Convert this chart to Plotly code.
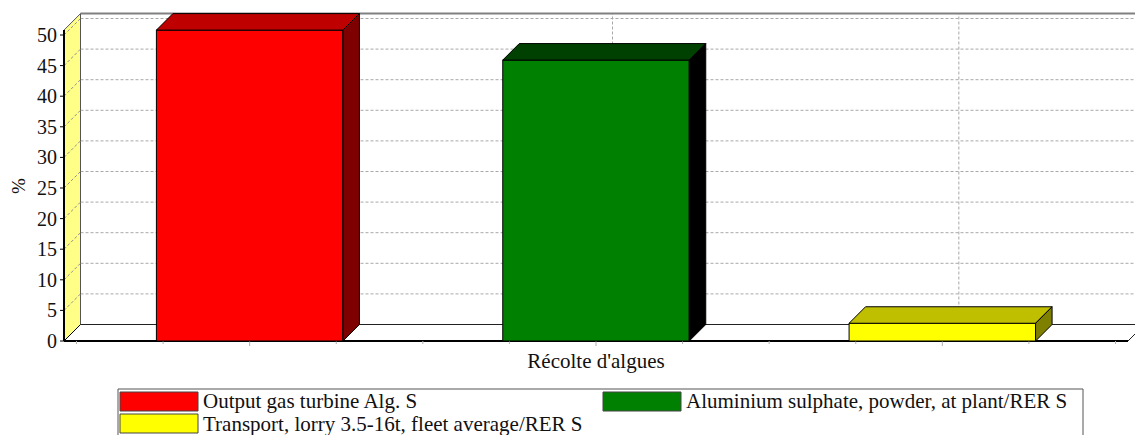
import plotly.graph_objects as go

# ---------------- data ----------------
category = "Récolte d'algues"
series_names = [
    "Output gas turbine Alg. S",
    "Aluminium sulphate, powder, at plant/RER S",
    "Transport, lorry 3.5-16t, fleet average/RER S",
]
values = [50.8, 45.9, 2.9]
colors = ["#FF0000", "#008000", "#FFFF00"]
y_ticks = [0, 5, 10, 15, 20, 25, 30, 35, 40, 45, 50]
y_title = "%"

# ---------------- geometry / style ----------------
W, H = 1135, 435
L, R, T, B = 58, 1135, 8, 346          # plot area in pixels
X0P, X1P = 64, 1128                     # front plane in pixels
Y0P, PYU = 341, 6.12                    # pixel of value 0, pixels per unit
PXU = X1P - X0P
xmin = -0.5 - (X0P - L) / PXU
xmax = -0.5 + (R - X0P) / PXU
ymin = -(B - Y0P) / PYU
ymax = (Y0P - T) / PYU
DEPTH = 16.5
DX = DEPTH / PXU
DY = DEPTH / PYU
BARGAP = 0.0235
BARGROUPGAP = 0.4615
FONT = "Liberation Serif"
GRID = "#A8A8A8"
top = max(values)


def shade(hexcol, amount):
    r, g, b = (int(hexcol[i:i + 2], 16) for i in (1, 3, 5))
    return "#%02X%02X%02X" % tuple(max(0, c - amount) for c in (r, g, b))


def pth(points):
    return "M " + " L ".join(f"{x},{y}" for x, y in points) + " Z"


fig = go.Figure()
for name, v, c in zip(series_names, values, colors):
    fig.add_trace(go.Bar(
        x=[0], y=[v], name=name, marker=dict(color=c, line=dict(color="black", width=1)),
        hoverinfo="name+y", showlegend=False,
    ))

shapes = []
# back wall
shapes.append(dict(type="rect", xref="x", yref="y", x0=-0.5 + DX, x1=0.5 + DX, y0=DY, y1=top + DY,
                   fillcolor="white", line=dict(width=0), layer="below"))
# back wall horizontal dashed grid
for v in y_ticks:
    if v > 0:
        shapes.append(dict(type="line", xref="x", yref="y", x0=-0.5 + DX, x1=0.5 + DX, y0=v + DY, y1=v + DY,
                           line=dict(color=GRID, width=1, dash="3px,2px"), layer="below"))
# vertical dashed grid at bar centres on back wall
n = len(values)
group = 1 - BARGAP
slot = group / n
bw = slot * (1 - BARGROUPGAP)
centers = [-group / 2 + slot * (i + 0.5) for i in range(n)]
for cx in centers:
    shapes.append(dict(type="line", xref="x", yref="y", x0=cx + DX, x1=cx + DX, y0=DY, y1=top + DY,
                       line=dict(color=GRID, width=1, dash="3px,2px"), layer="below"))
# top border of back wall
shapes.append(dict(type="line", xref="x", yref="y", x0=-0.5 + DX, x1=0.5 + DX, y0=top + DY, y1=top + DY,
                   line=dict(color="#808080", width=2), layer="below"))
# floor
shapes.append(dict(type="path", xref="x", yref="y",
                   path=pth([(-0.5, 0), (0.5, 0), (0.5 + DX, DY), (-0.5 + DX, DY)]),
                   fillcolor="white", line=dict(width=0), layer="below"))
shapes.append(dict(type="line", xref="x", yref="y", x0=-0.5 + DX, x1=0.5 + DX, y0=DY, y1=DY,
                   line=dict(color="#222222", width=1), layer="below"))
shapes.append(dict(type="line", xref="x", yref="y", x0=0.5, x1=0.5 + DX, y0=0, y1=DY,
                   line=dict(color="#222222", width=1), layer="below"))
# left side wall
shapes.append(dict(type="path", xref="x", yref="y",
                   path=pth([(-0.5, 0), (-0.5 + DX, DY), (-0.5 + DX, top + DY), (-0.5, top)]),
                   fillcolor="#FFFF88", line=dict(color="#555555", width=1), layer="below"))
for v in y_ticks:
    if v > 0:
        shapes.append(dict(type="line", xref="x", yref="y", x0=-0.5, x1=-0.5 + DX, y0=v, y1=v + DY,
                           line=dict(color="#909090", width=1, dash="3px,2px"), layer="below"))
shapes.append(dict(type="line", xref="x", yref="y", x0=-0.5, x1=-0.5 + DX, y0=0, y1=DY,
                   line=dict(color="black", width=1), layer="below"))
# front floor line and front y axis
shapes.append(dict(type="line", xref="x", yref="y", x0=-0.5, x1=0.5, y0=0, y1=0,
                   line=dict(color="black", width=2), layer="below"))
shapes.append(dict(type="line", xref="x", yref="y", x0=-0.5, x1=-0.5, y0=0, y1=top,
                   line=dict(color="black", width=2), layer="below"))
for v in y_ticks:
    shapes.append(dict(type="line", xref="x", yref="y", x0=-0.5 - 4 / PXU, x1=-0.5, y0=v, y1=v,
                       line=dict(color="black", width=1), layer="below"))
# small x ticks under the floor
k = -2
while True:
    xt = centers[0] + k * slot / 4
    if xt > 0.5:
        break
    if xt >= -0.5:
        ln = 5 if (k % 4 == 0) else 3
        shapes.append(dict(type="line", xref="x", yref="y", x0=xt, x1=xt, y0=0, y1=-ln / PYU,
                           line=dict(color="#B0B0B0", width=1), layer="below"))
    k += 1

# 3D faces of the bars
for cx, v, c in zip(centers, values, colors):
    x0, x1 = cx - bw / 2, cx + bw / 2
    shapes.append(dict(type="path", xref="x", yref="y",
                       path=pth([(x0, v), (x0 + DX, v + DY), (x1 + DX, v + DY), (x1, v)]),
                       fillcolor=shade(c, 64), line=dict(color="black", width=1), layer="above"))
    shapes.append(dict(type="path", xref="x", yref="y",
                       path=pth([(x1, 0), (x1 + DX, DY), (x1 + DX, v + DY), (x1, v)]),
                       fillcolor=shade(c, 128), line=dict(color="black", width=1), layer="above"))

# ---------------- manual legend ----------------
def px_x(p):
    return (p - L) / (R - L)


def px_y(p):
    return (B - p) / (B - T)


legend_cols = [120, 603]
legend_rows = [392, 414]
SW_W, SW_H = 78, 19
slots = [(0, 0), (1, 0), (0, 1)]
shapes.append(dict(type="rect", xref="paper", yref="paper", x0=px_x(118), x1=px_x(1083),
                   y0=px_y(445), y1=px_y(389), line=dict(color="#555555", width=1),
                   fillcolor="rgba(0,0,0,0)"))
annotations = []
for (ci, ri), name, c in zip(slots, series_names, colors):
    sx, sy = legend_cols[ci], legend_rows[ri]
    shapes.append(dict(type="rect", xref="paper", yref="paper", x0=px_x(sx), x1=px_x(sx + SW_W),
                       y0=px_y(sy + SW_H), y1=px_y(sy), fillcolor=c,
                       line=dict(color="#444444", width=1)))
    annotations.append(dict(xref="paper", yref="paper", x=px_x(sx + SW_W + 3), y=px_y(sy + SW_H / 2),
                            xanchor="left", yanchor="middle", showarrow=False, text=name,
                            font=dict(family=FONT, size=21, color="#111111")))

# y-axis title, centred on the front plane
annotations.append(dict(xref="paper", yref="paper", x=px_x(18), y=px_y(186), textangle=-90,
                        xanchor="center", yanchor="middle", showarrow=False, text=y_title,
                        font=dict(family=FONT, size=19, color="#111111")))

fig.update_layout(
    width=W, height=H,
    margin=dict(l=L, r=W - R, t=T, b=H - B, pad=0),
    paper_bgcolor="white", plot_bgcolor="white",
    barmode="group", bargap=BARGAP, bargroupgap=BARGROUPGAP,
    showlegend=False,
    shapes=shapes, annotations=annotations,
    font=dict(family=FONT, color="#111111"),
    xaxis=dict(range=[xmin, xmax], tickvals=[0], ticktext=[category], ticks="",
               showgrid=False, zeroline=False, showline=False,
               tickfont=dict(family=FONT, size=21, color="#111111")),
    yaxis=dict(range=[ymin, ymax], tickvals=y_ticks, ticks="", showgrid=False, zeroline=False,
               showline=False, tickfont=dict(family=FONT, size=20, color="#111111")),
)

fig.write_html("out.html", config={"displayModeBar": False},
               post_script="document.body.style.margin='0';")
